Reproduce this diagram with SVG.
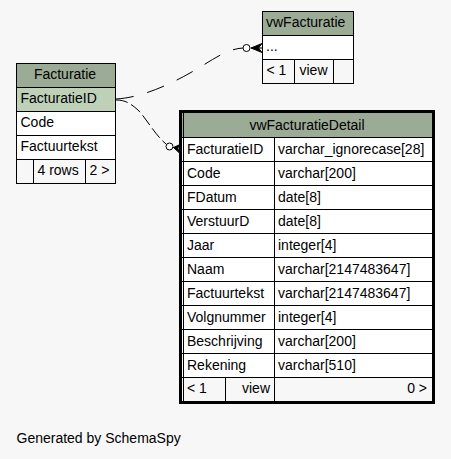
<svg xmlns="http://www.w3.org/2000/svg" width="451" height="459" viewBox="0 0 451 459">
  <style>
    text { font-family: "Liberation Sans", Arial, Helvetica, sans-serif; font-size: 14px; fill: #000; }
    .mid { text-anchor: middle; }
    .end { text-anchor: end; }
    .cell { stroke: #000; stroke-width: 1; fill: #fff; }
    .head { stroke: #000; stroke-width: 1; fill: #9bab96; }
    .pk { stroke: #000; stroke-width: 1; fill: #bed1b8; }
    .foot { stroke: #000; stroke-width: 1; fill: #f7f7f7; }
    .grid { stroke: #000; stroke-width: 1; fill: none; }
    .edge { fill: none; stroke: #000; stroke-width: 1; }
    .dashA { stroke-dasharray: 18 14; }
    .dashB { stroke-dasharray: 12 4; }
    .odot { fill: #fff; stroke: #000; stroke-width: 1; }
    .crow { fill: #000; stroke: #000; stroke-width: 1; stroke-linejoin: miter; }
  </style>

  <rect x="0" y="0" width="451" height="459" fill="#f7f7f7"/>

  <!-- relationships -->
  <g id="connectors">
    <!-- Facturatie.FacturatieID -> vwFacturatie -->
    <path class="edge dashA" d="M116,99 C135,98 160,90 190,73 C210,62 225,49 243,48"/>
    <circle class="odot" cx="246.5" cy="48" r="3.5"/>
    <polygon class="crow" points="251,48 262,43.5 258.5,48 262,52.5"/>
    <line class="edge" x1="251" y1="48" x2="262" y2="48"/>

    <!-- Facturatie.FacturatieID -> vwFacturatieDetail.FacturatieID -->
    <path class="edge dashB" d="M116,100 C125,100 130,103 138,110 C146,118 155,135 166.5,144.5"/>
    <circle class="odot" cx="169.5" cy="146.5" r="3.5"/>
    <polygon class="crow" points="173.5,147.5 180,144.5 177.5,148.5 180,153.5"/>
    <line class="edge" x1="173.5" y1="147.5" x2="180" y2="149.5"/>
  </g>

  <!-- Facturatie table -->
  <g id="Facturatie">
    <rect class="head" x="16.5" y="63.5" width="99" height="24"/>
    <rect class="pk" x="16.5" y="87.5" width="99" height="24"/>
    <rect class="cell" x="16.5" y="111.5" width="99" height="24"/>
    <rect class="cell" x="16.5" y="135.5" width="99" height="24"/>
    <rect class="foot" x="16.5" y="159.5" width="17" height="24"/>
    <rect class="foot" x="33.5" y="159.5" width="52" height="24"/>
    <rect class="foot" x="85.5" y="159.5" width="30" height="24"/>
    <text class="mid" x="65" y="78.5">Facturatie</text>
    <text x="20.5" y="102.5">FacturatieID</text>
    <text x="20.5" y="126.5">Code</text>
    <text x="20.5" y="150.5">Factuurtekst</text>
    <text x="37.5" y="174.5">4 rows</text>
    <text x="89.5" y="174.5">2 &gt;</text>
  </g>

  <!-- vwFacturatie view -->
  <g id="vwFacturatie">
    <rect class="head" x="262.5" y="11.5" width="91" height="24"/>
    <rect class="cell" x="262.5" y="35.5" width="91" height="24"/>
    <rect class="foot" x="262.5" y="59.5" width="32" height="24"/>
    <rect class="foot" x="294.5" y="59.5" width="39" height="24"/>
    <rect class="foot" x="333.5" y="59.5" width="20" height="24"/>
    <text x="266" y="26.5">vwFacturatie</text>
    <text x="266" y="50.5">...</text>
    <text x="266.5" y="74.5">&lt; 1</text>
    <text x="299.5" y="74.5">view</text>
  </g>

  <!-- vwFacturatieDetail view (focused, heavy border) -->
  <g id="vwFacturatieDetail">
    <rect x="182" y="113" width="250" height="24" fill="#9bab96"/>
    <rect x="182" y="137" width="250" height="240" fill="#fff"/>
    <rect x="182" y="377" width="250" height="24" fill="#f7f7f7"/>
    <g class="grid">
      <path d="M182,137.5 H432 M182,161.5 H432 M182,185.5 H432 M182,209.5 H432 M182,233.5 H432 M182,257.5 H432 M182,281.5 H432 M182,305.5 H432 M182,329.5 H432 M182,353.5 H432 M182,377.5 H432"/>
      <path d="M274.5,137 V401 M225.5,377 V401 M183.5,113 V401"/>
    </g>
    <rect x="180.5" y="111.5" width="253" height="291" fill="none" stroke="#000" stroke-width="3"/>
    <text class="mid" x="307" y="130">vwFacturatieDetail</text>
    <text x="187" y="154">FacturatieID</text>
    <text x="278" y="154">varchar_ignorecase[28]</text>
    <text x="187" y="178">Code</text>
    <text x="278" y="178">varchar[200]</text>
    <text x="187" y="202">FDatum</text>
    <text x="278" y="202">date[8]</text>
    <text x="187" y="226">VerstuurD</text>
    <text x="278" y="226">date[8]</text>
    <text x="187" y="250">Jaar</text>
    <text x="278" y="250">integer[4]</text>
    <text x="187" y="274">Naam</text>
    <text x="278" y="274">varchar[2147483647]</text>
    <text x="187" y="298">Factuurtekst</text>
    <text x="278" y="298">varchar[2147483647]</text>
    <text x="187" y="322">Volgnummer</text>
    <text x="278" y="322">integer[4]</text>
    <text x="187" y="346">Beschrijving</text>
    <text x="278" y="346">varchar[200]</text>
    <text x="187" y="370">Rekening</text>
    <text x="278" y="370">varchar[510]</text>
    <text x="187" y="393">&lt; 1</text>
    <text class="end" x="270" y="393">view</text>
    <text class="end" x="427" y="393">0 &gt;</text>
  </g>

  <text x="16.5" y="443">Generated by SchemaSpy</text>
</svg>
